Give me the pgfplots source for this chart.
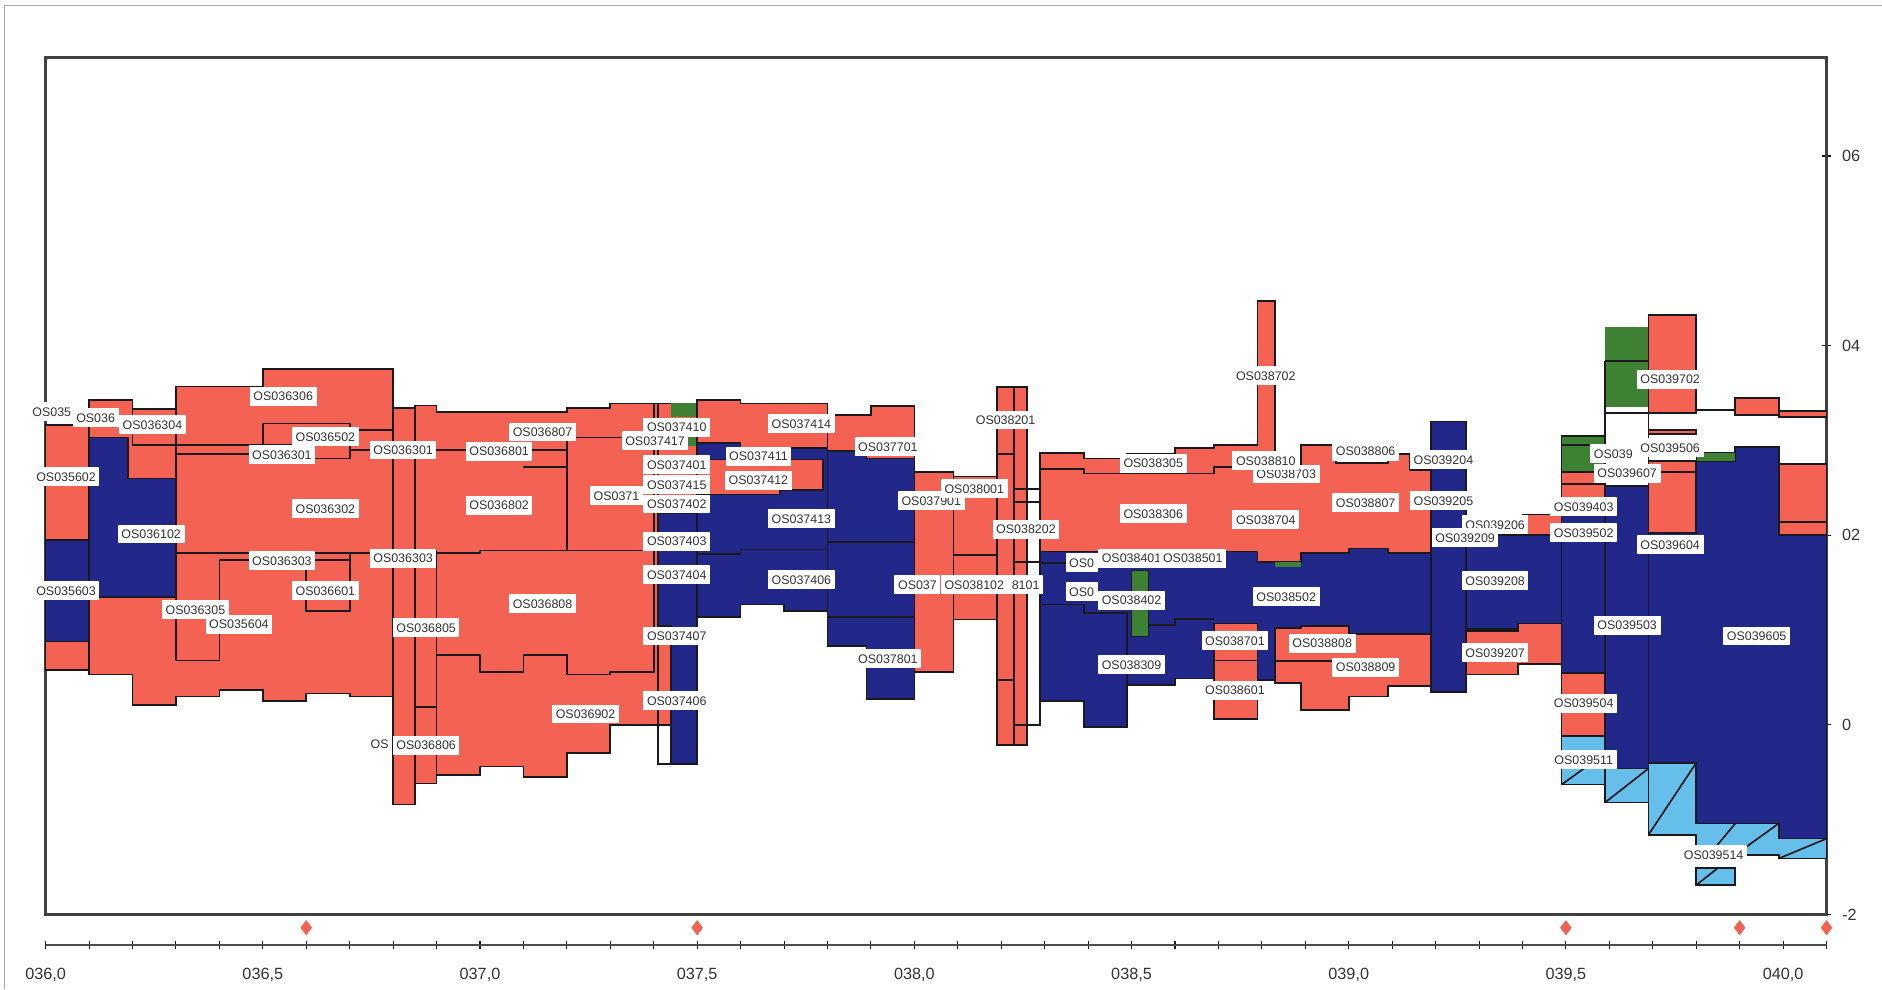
\documentclass[border=0pt]{standalone}
\usepackage{pgfplots}
\pgfplotsset{compat=1.18}
\usepackage{pgfplotstable}
\usepackage{fontspec}
\setmainfont{Liberation Sans}
\definecolor{cred}{RGB}{244,98,84}
\definecolor{cblue}{RGB}{33,40,138}
\definecolor{cgreen}{RGB}{62,128,52}
\definecolor{clblue}{RGB}{102,191,235}
\definecolor{cline}{RGB}{25,25,30}
\newcommand\tickfont{\fontsize{7.7}{8}\selectfont}
\newcommand\labfont{\fontsize{5.9}{6.5}\selectfont}
\tikzset{lab/.style={fill=white, inner xsep=0.6mm, inner ysep=0.8mm,
  text height=1.55mm, text depth=0pt, font=\labfont, text=black!80}}

\pgfplotstableread{
x y lab
36.246 3.165 OS036304
36.547 3.468 OS036306
36.644 3.038 OS036502
36.544 2.848 OS036301
36.823 2.899 OS036301
37.044 2.886 OS036801
37.144 3.089 OS036807
37.453 3.139 OS037410
37.403 3.000 OS037417
37.740 3.177 OS037414
37.641 2.835 OS037411
37.641 2.582 OS037412
37.939 2.937 OS037701
36.047 2.620 OS035602
36.644 2.278 OS036302
37.044 2.316 OS036802
37.453 2.747 OS037401
37.453 2.532 OS037415
37.453 2.329 OS037402
37.740 2.177 OS037413
37.453 1.937 OS037403
36.243 2.013 OS036102
36.544 1.734 OS036303
36.823 1.759 OS036303
36.644 1.418 OS036601
37.453 1.582 OS037404
37.740 1.532 OS037406
38.039 2.367 OS037901
38.138 2.494 OS038001
38.210 3.215 OS038201
38.257 2.063 OS038202
38.138 1.481 OS038102
36.047 1.418 OS035603
36.445 1.063 OS035604
36.345 1.215 OS036305
36.876 1.025 OS036805
37.144 1.278 OS036808
37.453 0.937 OS037407
37.939 0.696 OS037801
37.453 0.253 OS037406
37.243 0.114 OS036902
36.876 -0.215 OS036806
38.550 2.759 OS038305
38.550 2.228 OS038306
38.500 1.759 OS038401
38.641 1.759 OS038501
38.500 1.316 OS038402
38.500 0.633 OS038309
38.856 1.354 OS038502
38.738 0.886 OS038701
38.738 0.367 OS038601
38.939 0.861 OS038808
39.039 0.608 OS038809
38.856 2.646 OS038703
38.809 2.785 OS038810
38.809 3.684 OS038702
38.809 2.165 OS038704
39.039 2.886 OS038806
39.039 2.342 OS038807
39.218 2.797 OS039204
39.218 2.367 OS039205
39.337 2.114 OS039206
39.268 1.975 OS039209
39.337 1.519 OS039208
39.337 0.759 OS039207
39.541 2.304 OS039403
39.541 2.025 OS039502
39.541 0.228 OS039504
39.541 -0.367 OS039511
39.740 2.924 OS039506
39.641 2.655 OS039607
39.740 3.646 OS039702
39.740 1.899 OS039604
39.641 1.051 OS039503
39.939 0.937 OS039605
39.840 -1.367 OS039514
}\labeltable

% labels of which only the left part shows (right edge given)
\pgfplotstableread{
x y lab
36.068 3.304 OS035
36.169 3.241 OS036
37.376 2.418 OS0371
38.061 1.481 OS037
38.423 1.709 OS0
38.423 1.405 OS0
36.799 -0.203 OS
39.663 2.860 OS039
}\trunclabels

% label of which only the right part shows (left edge given)
\pgfplotstableread{
x y lab
38.215 1.481 8101
}\trunclabelsR

\begin{document}
\begin{tikzpicture}
\begin{axis}[name=main, scale only axis, width=296.8mm, height=142.8mm,
  xmin=36, xmax=40.1, ymin=-2, ymax=7.038,
  xtick=\empty, ytick={-2,0,2,4,6}, yticklabels={-2,0,02,04,06},
  ytick pos=right, yticklabel pos=right, tick align=center, major tick length=1.5mm,
  tick style={cline, line width=0.6pt},
  yticklabel style={font=\tickfont, text=black!80, anchor=west, xshift=0.6mm},
  axis line style={draw=black!75, line width=1.1pt},
  clip=false, unbounded coords=jump]

% ---------- red main mass 036,0 - 038,2
\addplot[fill=cred, draw=cline, line width=0.8pt] coordinates {
(36.0,0.58) (36.0,3.16) (36.1,3.16) (36.1,3.43) (36.2,3.43) (36.2,3.33) (36.3,3.33)
(36.3,3.57) (36.5,3.57) (36.5,3.75) (36.8,3.75) (36.8,3.34) (36.85,3.34) (36.85,3.37)
(36.9,3.37) (36.9,3.3) (37.2,3.3) (37.2,3.34) (37.3,3.34) (37.3,3.39) (37.5,3.39)
(37.5,3.43) (37.6,3.43) (37.6,3.39) (37.8,3.39) (37.8,3.27) (37.9,3.27) (37.9,3.36)
(38.0,3.36) (38.0,2.67) (38.09,2.67) (38.09,2.62) (38.19,2.62) (38.19,1.11) (38.09,1.11)
(38.09,0.56) (38.0,0.56) (38.0,2.5) (37.5,2.5) (37.5,0.0) (37.3,0.0) (37.3,-0.3)
(37.2,-0.3) (37.2,-0.55) (37.1,-0.55) (37.1,-0.44) (37.0,-0.44) (37.0,-0.53) (36.9,-0.53)
(36.9,-0.62) (36.85,-0.62) (36.85,-0.84) (36.8,-0.84) (36.8,0.3) (36.7,0.3) (36.7,0.33)
(36.6,0.33) (36.6,0.25) (36.5,0.25) (36.5,0.37) (36.4,0.37) (36.4,0.30) (36.3,0.30)
(36.3,0.21) (36.2,0.21) (36.2,0.53) (36.1,0.53) (36.1,0.58)} --cycle;
% tall bar 038,2
\addplot[fill=cred, draw=cline, line width=0.8pt] coordinates {
(38.19,-0.21) (38.19,3.56) (38.26,3.56) (38.26,-0.21)} --cycle;
% red 038,3 - 039,2 upper
\addplot[fill=cred, draw=cline, line width=0.8pt] coordinates {
(38.29,1.83) (38.29,2.87) (38.39,2.87) (38.39,2.81) (38.49,2.81) (38.49,2.86) (38.6,2.86)
(38.6,2.92) (38.69,2.92) (38.69,2.95) (38.79,2.95) (38.79,4.47) (38.83,4.47) (38.83,2.69)
(38.89,2.69) (38.89,2.95) (38.97,2.95) (38.97,2.76) (39.09,2.76) (39.09,2.86) (39.14,2.86)
(39.14,2.69) (39.19,2.69) (39.19,1.81) (39.09,1.81) (39.09,1.86) (39.0,1.86) (39.0,1.81)
(38.89,1.81) (38.89,1.72) (38.79,1.72) (38.79,1.83)} --cycle;

% ---------- blue
\addplot[fill=cblue, draw=cline, line width=0.8pt] coordinates {
(36.0,0.88) (36.0,1.95) (36.1,1.95) (36.1,0.88)} --cycle;
\addplot[fill=cblue, draw=cline, line width=0.8pt] coordinates {
(36.1,1.35) (36.1,3.03) (36.19,3.03) (36.19,2.6) (36.3,2.6) (36.3,1.35)} --cycle;
\addplot[fill=cblue, draw=cline, line width=0.8pt] coordinates {
(37.41,2.23) (37.5,2.23) (37.5,2.97) (37.6,2.97) (37.6,2.92) (37.8,2.92) (37.8,2.89)
(37.89,2.89) (37.89,2.81) (38.0,2.81) (38.0,0.27) (37.89,0.27) (37.89,0.83) (37.8,0.83)
(37.8,1.2) (37.7,1.2) (37.7,1.27) (37.6,1.27) (37.6,1.14) (37.5,1.14) (37.5,-0.41)
(37.44,-0.41) (37.44,1.04) (37.41,1.04)} --cycle;
\addplot[fill=cblue, draw=cline, line width=0.8pt] coordinates {
(38.29,0.25) (38.29,1.83) (38.79,1.83) (38.79,1.72) (38.89,1.72) (38.89,1.81) (39.0,1.81)
(39.0,1.86) (39.09,1.86) (39.09,1.81) (39.19,1.81) (39.19,3.2) (39.27,3.2) (39.27,2.0)
(39.49,2.0) (39.49,1.01) (39.27,1.01) (39.27,0.35) (39.19,0.35) (39.19,0.8) (38.83,0.8)
(38.83,0.47) (38.79,0.47) (38.79,1.0) (38.69,1.0) (38.69,0.49) (38.6,0.49) (38.6,0.42)
(38.49,0.42) (38.49,-0.02) (38.39,-0.02) (38.39,0.25)} --cycle;
\addplot[fill=cblue, draw=cline, line width=0.8pt] coordinates {
(39.49,0.55) (39.49,2.33) (39.59,2.33) (39.59,2.52) (39.69,2.52) (39.69,2.78) (39.89,2.78)
(39.89,2.93) (39.99,2.93) (39.99,2.0) (40.1,2.0) (40.1,-1.2) (39.99,-1.2) (39.99,-1.04)
(39.8,-1.04) (39.8,-0.4) (39.69,-0.4) (39.69,-0.46) (39.59,-0.46) (39.59,0.55)} --cycle;

% ---------- red overlays
\addplot[fill=cred, draw=cline, line width=0.8pt] coordinates {
(37.5,2.43) (37.5,2.8) (37.79,2.8) (37.79,2.48) (37.69,2.48) (37.69,2.43)} --cycle;
\addplot[fill=cred, draw=cline, line width=0.8pt] coordinates {
(38.83,0.44) (38.83,1.02) (38.89,1.02) (38.89,1.04) (39.0,1.04) (39.0,0.96) (39.19,0.96)
(39.19,0.41) (39.09,0.41) (39.09,0.3) (39.0,0.3) (39.0,0.16) (38.89,0.16) (38.89,0.44)} --cycle;
\addplot[fill=cred, draw=cline, line width=0.8pt] coordinates {
(38.69,0.06) (38.69,1.07) (38.79,1.07) (38.79,0.06)} --cycle;
\addplot[fill=cred, draw=cline, line width=0.8pt] coordinates {
(39.27,0.53) (39.27,0.99) (39.39,0.99) (39.39,1.07) (39.49,1.07) (39.49,0.64) (39.39,0.64)
(39.39,0.53)} --cycle;
\addplot[fill=cred, draw=cline, line width=0.8pt] coordinates {
(39.4,2.0) (39.4,2.22) (39.49,2.22) (39.49,2.0)} --cycle;
\addplot[fill=cred, draw=cline, line width=0.8pt] coordinates {
(39.49,-0.12) (39.49,0.55) (39.59,0.55) (39.59,-0.12)} --cycle;
\addplot[fill=cred, draw=cline, line width=0.8pt] coordinates {
(39.49,2.33) (39.49,2.67) (39.59,2.67) (39.59,2.33)} --cycle;
\addplot[fill=cred, draw=cline, line width=0.8pt] coordinates {
(39.69,3.29) (39.69,4.32) (39.8,4.32) (39.8,3.29)} --cycle;
\addplot[fill=cred, draw=cline, line width=0.8pt] coordinates {
(39.69,3.07) (39.69,3.11) (39.8,3.11) (39.8,3.07)} --cycle;
\addplot[fill=cred, draw=cline, line width=0.8pt] coordinates {
(39.89,3.27) (39.89,3.45) (39.99,3.45) (39.99,3.27)} --cycle;
\addplot[fill=cred, draw=cline, line width=0.8pt] coordinates {
(39.99,3.25) (39.99,3.31) (40.1,3.31) (40.1,3.25)} --cycle;
\addplot[fill=cred, draw=cline, line width=0.8pt] coordinates {
(39.69,2.02) (39.69,2.78) (39.8,2.78) (39.8,2.02)} --cycle;
\addplot[fill=cred, draw=cline, line width=0.8pt] coordinates {
(39.99,2.0) (39.99,2.75) (40.1,2.75) (40.1,2.0)} --cycle;

% ---------- green
\addplot[fill=cgreen, draw=none] coordinates {
(37.44,3.25) (37.44,3.39) (37.5,3.39) (37.5,3.25)} --cycle;
\addplot[fill=cgreen, draw=none] coordinates {
(37.48,2.94) (37.48,3.06) (37.5,3.06) (37.5,2.94)} --cycle;
\addplot[fill=cgreen, draw=cline, line width=0.5pt] coordinates {
(38.5,0.93) (38.5,1.63) (38.54,1.63) (38.54,0.93)} --cycle;
\addplot[fill=cgreen, draw=none] coordinates {
(38.83,1.67) (38.83,1.72) (38.89,1.72) (38.89,1.67)} --cycle;
\addplot[fill=cgreen, draw=cline, line width=0.8pt] coordinates {
(39.49,2.67) (39.49,3.05) (39.59,3.05) (39.59,2.67)} --cycle;
\addplot[fill=cgreen, draw=none] coordinates {
(39.59,3.35) (39.59,4.2) (39.69,4.2) (39.69,3.35)} --cycle;
\addplot[fill=cgreen, draw=cline, line width=0.6pt] coordinates {
(39.8,2.78) (39.8,2.87) (39.89,2.87) (39.89,2.78)} --cycle;

% ---------- light blue
\addplot[fill=clblue, draw=cline, line width=0.8pt] coordinates {
(39.49,-0.12) (39.59,-0.12) (39.59,-0.46) (39.69,-0.46) (39.69,-0.4) (39.8,-0.4)
(39.8,-1.04) (39.99,-1.04) (39.99,-1.2) (40.1,-1.2) (40.1,-1.41) (39.99,-1.41)
(39.99,-1.37) (39.8,-1.37) (39.8,-1.16) (39.69,-1.16) (39.69,-0.82) (39.59,-0.82)
(39.59,-0.63) (39.49,-0.63)} --cycle;
\addplot[fill=clblue, draw=cline, line width=0.8pt] coordinates {
(39.8,-1.69) (39.8,-1.51) (39.89,-1.51) (39.89,-1.69)} --cycle;
\addplot[cline, line width=0.8pt] coordinates {
(39.49,-0.63) (39.59,-0.30) (nan,nan)
(39.59,-0.82) (39.69,-0.46) (nan,nan)
(39.69,-1.16) (39.8,-0.4) (nan,nan)
(39.8,-1.69) (39.85,-1.51) (nan,nan)
(39.83,-1.37) (39.89,-1.04) (nan,nan)
(39.89,-1.37) (39.99,-1.04) (nan,nan)
(39.99,-1.41) (40.1,-1.2)};

% ---------- block outlines
\addplot[cline, line width=0.8pt] coordinates {
(36.1,3.43) (36.1,0.53) (nan,nan)
(36.2,3.33) (36.2,2.95) (36.7,2.95) (36.7,2.9) (37.2,2.9) (37.2,3.03) (37.35,3.03) (nan,nan)
(36.3,2.86) (36.55,2.86) (nan,nan)
(36.3,3.57) (36.3,0.68) (36.4,0.68) (36.4,1.74) (36.7,1.74) (36.7,1.81) (nan,nan)
(36.3,1.81) (37.0,1.81) (37.0,1.84) (37.4,1.84) (nan,nan)
(36.6,1.74) (36.6,1.2) (36.7,1.2) (36.7,1.74) (nan,nan)
(36.5,2.95) (36.5,3.18) (36.7,3.18) (36.7,2.81) (36.6,2.81) (nan,nan)
(36.7,3.11) (36.8,3.11) (nan,nan)
(36.5,3.75) (36.5,3.42) (nan,nan)
(36.8,3.75) (36.8,-0.84) (nan,nan)
(36.85,3.34) (36.85,-0.62) (nan,nan)
(36.9,1.84) (36.9,-0.53) (nan,nan)
(36.9,0.74) (37.0,0.74) (37.0,0.56) (37.1,0.56) (37.1,0.74) (37.2,0.74) (37.2,0.53)
(37.3,0.53) (37.3,0.56) (37.4,0.56) (37.4,3.39) (nan,nan)
(37.2,2.9) (37.2,1.84) (nan,nan)
(37.1,2.72) (37.2,2.72) (nan,nan)
(36.85,0.19) (36.9,0.19) (nan,nan)
(37.41,3.39) (37.41,-0.41) (37.5,-0.41) (nan,nan)
(37.41,0.0) (37.44,0.0) (nan,nan)
(37.5,3.43) (37.5,-0.41) (nan,nan)
(37.5,1.8) (37.6,1.8) (37.6,1.85) (37.8,1.85) (37.8,1.93) (38.0,1.93) (nan,nan)
(37.8,3.39) (37.8,0.83) (nan,nan)
(37.8,1.14) (38.0,1.14) (nan,nan)
(38.0,3.36) (38.0,0.27) (nan,nan)
(38.09,2.62) (38.09,0.56) (nan,nan)
(38.09,1.79) (38.19,1.79) (nan,nan)
(38.23,3.56) (38.23,-0.21) (nan,nan)
(38.19,2.86) (38.23,2.86) (nan,nan)
(38.19,0.47) (38.23,0.47) (nan,nan)
(38.23,2.49) (38.29,2.49) (nan,nan)
(38.23,2.35) (38.29,2.35) (nan,nan)
(38.23,1.72) (38.29,1.72) (nan,nan)
(38.23,0.0) (38.29,0.0) (38.29,2.87) (nan,nan)
(38.29,2.7) (38.39,2.7) (38.39,2.65) (38.69,2.65) (38.69,2.72) (38.79,2.72) (nan,nan)
(38.29,1.71) (38.39,1.71) (nan,nan)
(38.29,1.27) (38.39,1.27) (38.39,1.18) (38.49,1.18) (38.49,0.42) (nan,nan)
(38.54,1.05) (38.6,1.05) (38.6,1.12) (38.69,1.12) (nan,nan)
(38.69,0.68) (38.79,0.68) (nan,nan)
(38.83,0.67) (39.0,0.67) (nan,nan)
(39.19,3.2) (39.19,0.35) (nan,nan)
(39.27,3.2) (39.27,0.53) (nan,nan)
(39.49,3.05) (39.49,-0.63) (nan,nan)
(39.59,3.84) (39.59,-0.82) (nan,nan)
(39.59,3.84) (39.69,3.84) (nan,nan)
(39.69,4.32) (39.69,-1.16) (nan,nan)
(39.49,2.95) (39.59,2.95) (nan,nan)
(39.49,2.54) (39.59,2.54) (nan,nan)
(39.69,2.67) (39.8,2.67) (nan,nan)
(39.8,3.32) (39.89,3.32) (nan,nan)
(39.99,2.14) (40.1,2.14) (nan,nan)
(39.59,3.29) (39.69,3.29)};

% ---------- markers below the axis
\addplot[only marks, mark=diamond*, mark size=1.15mm, color=cred] coordinates {
(36.6,-2.14) (37.5,-2.14) (39.5,-2.14) (39.9,-2.14) (40.1,-2.14)};

% ---------- labels
\addplot[only marks, mark=none, nodes near coords, point meta=explicit symbolic,
  nodes near coords style={lab, anchor=east}]
  table[x=x, y=y, meta=lab] {\trunclabels};
\addplot[only marks, mark=none, nodes near coords, point meta=explicit symbolic,
  nodes near coords style={lab, anchor=west}]
  table[x=x, y=y, meta=lab] {\trunclabelsR};
\addplot[only marks, mark=none, nodes near coords, point meta=explicit symbolic,
  nodes near coords style={lab, anchor=center}]
  table[x=x, y=y, meta=lab] {\labeltable};

% frame of the picture
\path (axis cs:35.895,-2.7848) rectangle (axis cs:40.2265,7.6456);
\draw[black!35, line width=0.5pt] (axis cs:35.905,-2.7848) -- (axis cs:35.905,7.59) -- (axis cs:40.2265,7.59);
\end{axis}

\begin{axis}[at={(main.south west)}, anchor=south west, yshift=-5.06mm,
  scale only axis, width=296.8mm, height=5mm,
  xmin=36, xmax=40.1, ymin=0, ymax=1,
  axis y line=none, axis x line*=bottom,
  xtick={36,36.5,37,37.5,38,38.5,39,39.5,40},
  xticklabels={{036,0},{036,5},{037,0},{037,5},{038,0},{038,5},{039,0},{039,5},{040,0}},
  minor xtick={36.1,36.2,36.3,36.4,36.6,36.7,36.8,36.9,37.1,37.2,37.3,37.4,37.6,37.7,37.8,37.9,38.1,38.2,38.3,38.4,38.6,38.7,38.8,38.9,39.1,39.2,39.3,39.4,39.6,39.7,39.8,39.9,40.1},
  tick align=center, major tick length=1.3mm, minor tick length=1.3mm,
  tick style={cline, line width=0.5pt},
  axis line style={draw=black!70, line width=0.8pt},
  xticklabel style={font=\tickfont, text=black!80, anchor=base, yshift=-5.1mm}]
\addplot[draw=none] coordinates {(36,0.5) (40,0.5)};
\end{axis}
\end{tikzpicture}
\end{document}
